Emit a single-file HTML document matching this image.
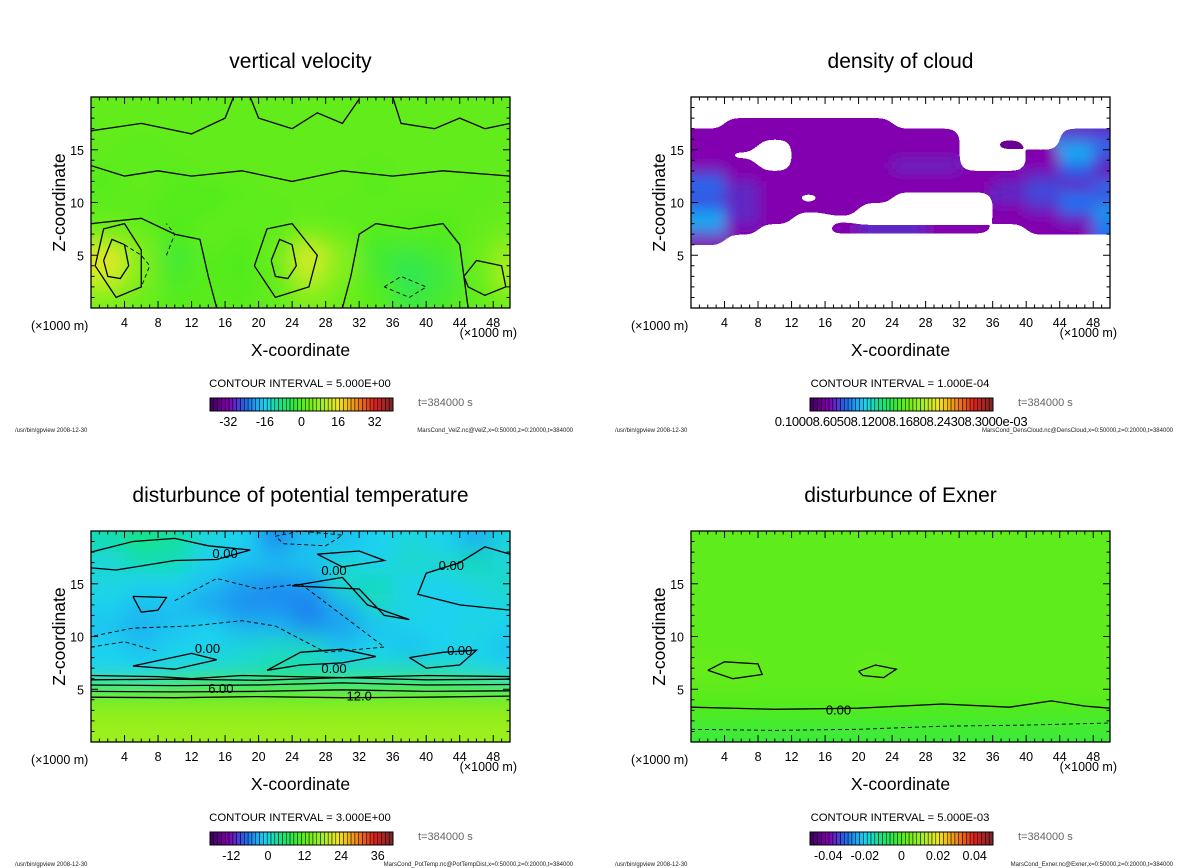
<!DOCTYPE html>
<html><head><meta charset="utf-8"><style>
html,body{margin:0;padding:0;background:#fff}
svg{display:block;font-family:"Liberation Sans","DejaVu Sans",sans-serif}
</style></head><body>
<svg id="s" width="1200" height="868" viewBox="0 0 1200 868" xmlns="http://www.w3.org/2000/svg">
<defs>
<filter id="blurA" x="-20%" y="-20%" width="140%" height="140%"><feGaussianBlur stdDeviation="11"/></filter>
<filter id="blurC" x="-20%" y="-20%" width="140%" height="140%"><feGaussianBlur stdDeviation="7"/><feComponentTransfer><feFuncA type="discrete" tableValues="0 1"/></feComponentTransfer></filter>
</defs>
</svg>
<script>
// ---- data ----
const xTicks=[4,8,12,16,20,24,28,32,36,40,44,48];
const zTicks=[5,10,15];
const velZ=[
[2,2,2,2,2,2,2,2,2,2,2,2,2],
[2,2,2,2,2,2,2,2,2,2,2,2,2],
[2,1,2,2,2,2,2,2,2,2,2,2,2],
[1,2,1,2,2,2,2,2,1,2,2,2,2],
[1,2,1,0,1,2,2,2,1,2,2,1,2],
[2,1,0,1,2,1,2,1,2,1,1,2,2],
[4,3,0,2,1,2,4,3,0,1,0,2,4],
[15,5,-2,1,0,3,14,6,-2,-3,-1,3,8],
[13,5,-1,1,0,2,11,5,-1,-5,-3,2,10],
[5,3,1,1,1,2,5,3,1,-3,-1,2,4]];
const cloud=[
[0,0,0,0,0,0,0,0,0,0,0,0,0],
[0,0,0,0,0,0,0,0,0,0,0,0,0],
[0,3,3,3,3,3,0,0,0,0,0,0,0],
[3,3,3,3,3,3,3,3,0,0,0,4,4],
[3,3,0,3,3,3,3,3,0,2,0,7,6],
[3,0,0,3,3,3,3,3,0,0,3,8,5],
[3,3,0,3,3,3,4,4,0,0,3,6,4],
[5,3,3,3,3,3,3,3,3,3,4,5,4],
[6,4,3,3,3,3,3,3,3,4,5,4,6],
[5,4,3,0,3,3,0,0,0,4,5,6,5],
[6,4,3,3,3,0,0,0,0,3,4,6,7],
[8,4,3,0,0,0,0,0,0,3,3,4,7],
[7,3,0,0,3,4,4,3,3,0,3,3,6],
[3,0,0,0,0,0,0,0,0,0,0,0,0],
[0,0,0,0,0,0,0,0,0,0,0,0,0]];
const potTemp=[
[2,4,3,0,-1,-5,-2,-2,-1,0,-1,-3,0],
[0,2,2,-1,-2,-2,-2,0,-1,1,1,2,0],
[0,-1,-1,-2,-4,-5,-4,1,2,-1,-1,0,1],
[-1,-2,-2,-4,-5,-5,-6,-3,1,0,-1,-1,0],
[-2,-3,-2,-1,-3,-3,-5,-4,-2,-1,-1,0,-1],
[-1,-2,-1,-1,0,1,1,-2,-1,-2,-1,-1,-2],
[-1,-1,0,1,1,2,2,1,1,1,1,0,-1],
[10,10,10,10,10,10,10,10,10,10,10,10,10],
[16,16,16,16,16,16,16,16,16,16,16,16,16],
[17,17,17,17,17,17,17,17,17,17,17,17,17]];
const exner=[
[2,2,2,2,2,2,2,2,2,2,2,2,2],
[2,2,2,2,2,2,2,2,2,2,2,2,2],
[2,2,2,2,2,2,2,2,2,2,2,2,2],
[2,2,2,2,2,2,2,2,2,2,2,2,2],
[2,2,2,2,2,2,2,2,2,2,2,2,2],
[2,2,2,2,2,2,2,2,2,2,2,2,2],
[3,3,2,2,2,3,2,2,2,2,2,2,2],
[2,2,2,2,2,2,2,2,2,2,2,2,2],
[0,0,0,0,0,0,0,0,0,0,0,0,0],
[-3,-3,-3,-3,-3,-3,-3,-3,-3,-3,-3,-3,-3]];
const velLines=[
 [[0,16.8],[6,17.5],[12,16.5],[16,18],[17,20]],
 [[19,20],[20,18],[24,17],[27,18.5],[30,17.5],[32,19.8]],
 [[36,20],[37,17.5],[41,17],[44,18],[47,17],[50,17.5]],
 [[0,13.5],[4,12.5],[8,13],[12,12.5],[18,13],[24,12],[30,13],[36,12.5],[42,13],[50,12.5]],
 [[0,8],[6,8.5],[10,7],[13,6.5],[14,3],[15,0]],
 [[30,0],[31,3],[32,7],[34,8],[38,7.5],[42,8],[44,6],[45,0]],
 [[1.5,4.5],[2.5,6.5],[4,6],[4.5,4],[3.5,2.8],[2,3],[1.5,4.5]],
 [[0.5,4],[1.5,7.5],[4,8],[6,5.5],[6,2],[3,1],[0.5,4]],
 [[21.5,4.5],[22.5,6.5],[24,6],[24.5,4],[23.5,2.8],[22,3],[21.5,4.5]],
 [[19.5,4],[21,7.5],[24,8],[27,5],[26,2],[22,1],[19.5,4]],
 [[44.5,3],[46,4.5],[49,4],[49.5,2],[47,1.2],[45,2],[44.5,3]]];
const velDash=[
 [[4,6],[6,5],[7,4],[6,2]],
 [[35,2],[37,3],[40,2],[38,1],[35,2]],
 [[9,5],[10,7],[9,8]]];
const tempLines=[
 [[0,5.9],[10,5.95],[20,5.85],[30,6.1],[40,5.9],[50,5.95]],
 [[0,5.4],[10,5.35],[20,5.4],[30,5.6],[40,5.4],[50,5.45]],
 [[0,4.8],[10,4.75],[20,4.8],[30,4.95],[40,4.8],[50,4.85]],
 [[0,4.25],[10,4.2],[20,4.3],[30,4.2],[40,4.25],[50,4.35]],
 [[0,6.3],[8,6.2],[12,6.0],[18,6.3],[30,6.1],[40,6.3],[50,6.2]],
 [[21,6.8],[25,8.5],[30,8.8],[34,8.1],[30,7.5],[25,7.3],[21,6.8]],
 [[5,7.2],[12,8.4],[15,7.8],[10,6.9],[5,7.2]],
 [[0,18],[5,19],[10,19.3],[14,18.6],[19,18.2],[15,17.3],[10,17.2],[3,16.3],[0,16.5]],
 [[27,17.8],[32,18.1],[35,17.2],[30,16.6],[27,17.8]],
 [[24,14.8],[30,15.6],[33,13],[38,11.6],[35,12],[32,14.5],[24,14.8]],
 [[50,17.8],[47,18.5],[44,17],[40,16],[39,14],[44,13],[50,12.5]],
 [[5,13.8],[9,13.7],[8,12.5],[6,12.3],[5,13.8]],
 [[38,8],[42,8.5],[46,8.7],[44,7.3],[40,7],[38,8]]];
const tempDash=[
 [[10,13.4],[15,15.5],[20,14.5],[25,15],[30,12],[35,9],[28,8.5],[22,11],[18,11.5],[12,11],[5,10.8],[0,10]],
 [[22,19.5],[25,20],[30,19.6],[28,18.6],[23,18.8],[22,19.5]],
 [[0,9],[4,9.5],[8,8.6]]];
const exnerLines=[
 [[0,3.3],[10,3.1],[20,3.2],[30,3.6],[38,3.3],[43,3.9],[47,3.4],[50,3.2]],
 [[2,6.8],[4,7.6],[8,7.4],[8.5,6.4],[5,6],[2,6.8]],
 [[20,6.7],[22,7.3],[24.5,6.9],[23,6.1],[20.5,6.3],[20,6.7]]];
const exnerDash=[
 [[0,1.2],[10,1.1],[20,1.2],[30,1.5],[40,1.6],[50,1.8]]];
const panels=[
 {name:'vertical-velocity',title:'vertical velocity',grid:velZ,vmin:-40,vmax:40,rowH:2,lines:velLines,dash:velDash,labels:[],ci:'5.000E+00',cbLabels:['-32','-16','0','16','32'],cbVals:[-32,-16,0,16,32],file:'MarsCond_VelZ.nc@VelZ,x=0:50000,z=0:20000,t=384000'},
 {name:'density-of-cloud',title:'density of cloud',grid:cloud,vmin:0,vmax:30,rowH:1,cloud:true,lines:[],dash:[],labels:[],ci:'1.000E-04',cbLabels:[],cbVals:[],file:'MarsCond_DensCloud.nc@DensCloud,x=0:50000,z=0:20000,t=384000'},
 {name:'potential-temperature',title:'disturbunce of potential temperature',grid:potTemp,vmin:-19,vmax:41,rowH:2,lines:tempLines,dash:tempDash,labels:[['0.00',16,17.9],['0.00',29,16.3],['0.00',43,16.8],['0.00',13.9,8.9],['0.00',29,7.0],['0.00',44,8.7],['6.00',15.5,5.1],['12.0',32,4.4]],ci:'3.000E+00',cbLabels:['-12','0','12','24','36'],cbVals:[-12,0,12,24,36],file:'MarsCond_PotTemp.nc@PotTempDist,x=0:50000,z=0:20000,t=384000'},
 {name:'exner',title:'disturbunce of Exner',grid:exner,vmin:-50,vmax:50,rowH:2,lines:exnerLines,dash:exnerDash,labels:[['0.00',17.6,3.1]],ci:'5.000E-03',cbLabels:['-0.04','-0.02','0','0.02','0.04'],cbVals:[-40,-20,0,20,40],file:'MarsCond_Exner.nc@Exner,x=0:50000,z=0:20000,t=384000'}];

// ---- rendering ----
const NS='http://www.w3.org/2000/svg';
const svg=document.getElementById('s');
function mk(tag,attrs,parent){const e=document.createElementNS(NS,tag);for(const k in attrs)e.setAttribute(k,attrs[k]);(parent||svg).appendChild(e);return e;}
const stops=[[0,[60,0,90]],[0.1,[130,0,175]],[0.2,[30,110,240]],[0.3,[30,210,240]],[0.4,[20,230,120]],[0.5,[80,235,30]],[0.62,[170,240,30]],[0.7,[240,230,40]],[0.8,[240,140,20]],[0.9,[220,30,30]],[1,[120,40,40]]];
function cmap(t){t=Math.max(0,Math.min(1,t));for(let i=1;i<stops.length;i++){if(t<=stops[i][0]){const a=stops[i-1],b=stops[i],f=(t-a[0])/(b[0]-a[0]);const c=a[1].map((v,k)=>Math.round(v+(b[1][k]-v)*f));return `rgb(${c[0]},${c[1]},${c[2]})`;}}return 'rgb(120,40,40)';}
const X0=91,W=419,Y0=97,H=211;
panels.forEach((p,idx)=>{
  const ox=(idx%2)*600, oy=Math.floor(idx/2)*434;
  const fx=X0+ox, fy=Y0+oy;
  const xs=x=>fx+x/50*W, zs=z=>fy+H-z/20*H;
  const g=mk('g',{});
  
  
  const t=mk('text',{x:fx+W/2,y:fy-29,'text-anchor':'middle','font-size':21},g);t.textContent=p.title;
  
  const cid='clip'+idx;
  const cp=mk('clipPath',{id:cid},svg.querySelector('defs'));mk('rect',{x:fx,y:fy,width:W,height:H},cp);
  const outer=mk('g',{'clip-path':`url(#${cid})`},g);
  
  const fg=mk('g',{filter:p.cloud?'url(#blurC)':'url(#blurA)'},outer);
  const rows=p.grid.length, cols=p.grid[0].length;
  p.grid.forEach((row,r)=>row.forEach((v,c)=>{
    if(p.cloud&&v<=0)return;
    const ztop=20-r*p.rowH;
    let x1=xs(c*4),x2=xs(c*4+4),y1=zs(ztop),y2=zs(ztop-p.rowH);
    if(!p.cloud){if(c===0)x1-=30;if(c===cols-1)x2+=30;if(r===0)y1-=30;if(r===rows-1)y2+=30;}
    else{if(c===0)x1-=20;if(c===cols-1)x2+=20;}
    const cell=mk('rect',{x:x1,y:y1,width:x2-x1+0.5,height:y2-y1+0.5,fill:cmap((v-p.vmin)/(p.vmax-p.vmin))},fg);
    
    
  }));
  const pth=pts=>pts.map((q,i)=>(i?'L':'M')+xs(q[0]).toFixed(1)+' '+zs(q[1]).toFixed(1)).join(' ');
  p.lines.forEach(l=>{const e=mk('path',{d:pth(l),fill:'none',stroke:'#000','stroke-width':1.3},outer);});
  p.dash.forEach(l=>{const e=mk('path',{d:pth(l),fill:'none',stroke:'#000','stroke-width':0.9,'stroke-dasharray':'4 3'},outer);});
  p.labels.forEach(L=>{const e=mk('text',{x:xs(L[1]),y:zs(L[2])+5,'text-anchor':'middle','font-size':13},outer);e.textContent=L[0];});
  const fr=mk('rect',{x:fx,y:fy,width:W,height:H,fill:'none',stroke:'#000','stroke-width':1.3},g);
  
  let d='';
  for(let x=1;x<50;x++){const L=x%4===0?7:3.5;d+=`M${xs(x)} ${fy+H}v${-L}M${xs(x)} ${fy}v${L}`;}
  for(let z=1;z<20;z++){const L=z%5===0?7:3.5;d+=`M${fx} ${zs(z)}h${L}M${fx+W} ${zs(z)}h${-L}`;}
  const tk=mk('path',{d:d,stroke:'#000','stroke-width':1,fill:'none'},g);
  xTicks.forEach(v=>{const e=mk('text',{x:xs(v),y:fy+H+19,'text-anchor':'middle','font-size':12.5},g);e.textContent=v;});
  zTicks.forEach(v=>{const e=mk('text',{x:fx-7,y:zs(v)+5,'text-anchor':'end','font-size':12.5},g);e.textContent=v;});
  let e=mk('text',{x:fx-60,y:fy+H+22,'font-size':12.5},g);e.textContent='(×1000 m)';
  e=mk('text',{x:fx+W+7,y:fy+H+29,'text-anchor':'end','font-size':12.5},g);e.textContent='(×1000 m)';
  e=mk('text',{x:fx+W/2-0,y:fy+H+48,'text-anchor':'middle','font-size':17.5},g);e.textContent='X-coordinate';
  e=mk('text',{x:0,y:0,'text-anchor':'middle','font-size':17.5,transform:`translate(${fx-26},${fy+H/2}) rotate(-90)`},g);e.textContent='Z-coordinate';
  e=mk('text',{x:fx+209,y:fy+H+79,'text-anchor':'middle','font-size':11.3},g);e.textContent='CONTOUR INTERVAL = '+p.ci;
  const cb=mk('g',{},g);
  const cbx=fx+119,cby=fy+H+90,cbw=183,cbh=13,n=48;
  for(let i=0;i<n;i++){const r=mk('rect',{x:cbx+i*cbw/n,y:cby,width:cbw/n,height:cbh,fill:cmap((i+0.5)/n),stroke:'#000','stroke-width':0.5},cb);}
  mk('rect',{x:cbx,y:cby,width:cbw,height:cbh,fill:'none',stroke:'#000','stroke-width':1},cb);
  p.cbLabels.forEach((L,i)=>{const t=(p.cbVals[i]-p.vmin)/(p.vmax-p.vmin);const e=mk('text',{x:cbx+t*cbw,y:cby+28,'text-anchor':'middle','font-size':12.5},cb);e.textContent=L;});
  if(p.cloud){const e=mk('text',{x:cbx+91,y:cby+28,'text-anchor':'middle','font-size':13,'letter-spacing':'-0.3'},cb);e.textContent='0.10008.60508.12008.16808.24308.3000e-03';}
  e=mk('text',{x:fx+327,y:cby+8,'font-size':11,fill:'#666'},g);e.textContent='t=384000 s';
  e=mk('text',{x:fx-76,y:fy+H+124,'font-size':6,fill:'#222'},g);e.textContent='/usr/bin/gpview   2008-12-30';
  e=mk('text',{x:fx+482,y:fy+H+124,'text-anchor':'end','font-size':6,fill:'#222'},g);e.textContent=p.file;
});
</script>
</body></html>
